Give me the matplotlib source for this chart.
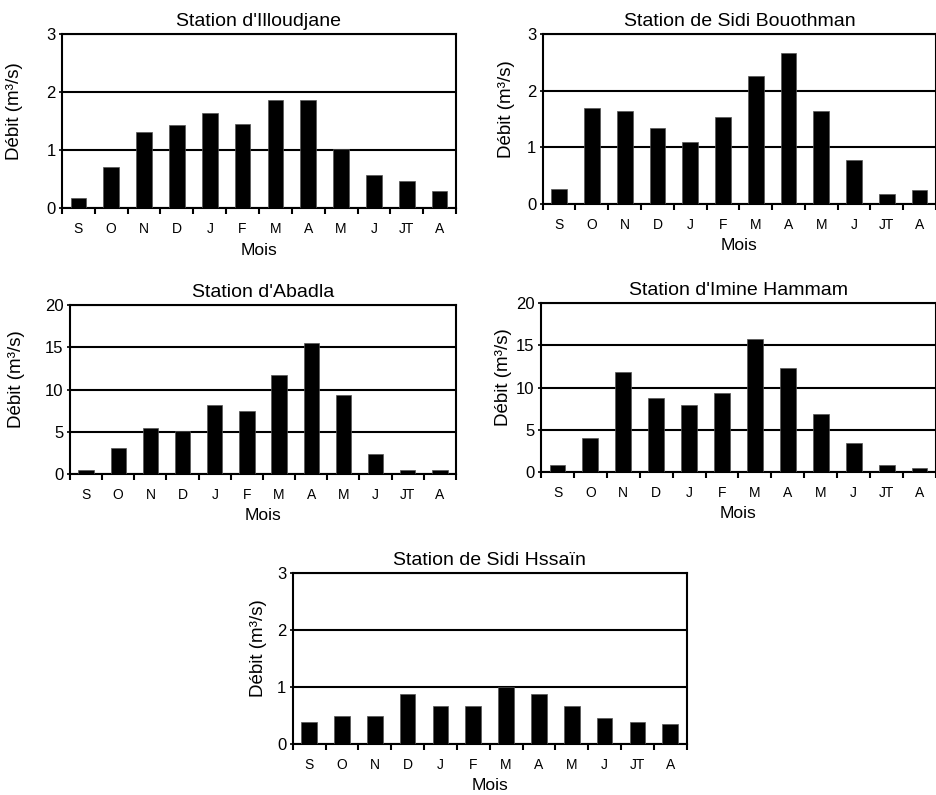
import matplotlib
matplotlib.use("Agg")
import matplotlib.pyplot as plt
from matplotlib.ticker import FixedLocator, NullFormatter

plt.rcParams['font.family'] = ['Liberation Sans', 'DejaVu Sans']

months = ["S", "O", "N", "D", "J", "F", "M", "A", "M", "J", "JT", "A"]

illoudjane = [0.18, 0.71, 1.31, 1.43, 1.64, 1.46, 1.86, 1.86, 1.02, 0.58, 0.47, 0.29]
sidi_bouothman = [0.27, 1.69, 1.64, 1.35, 1.09, 1.54, 2.26, 2.67, 1.64, 0.77, 0.18, 0.24]
abadla = [0.44, 3.1, 5.45, 5.05, 8.2, 7.5, 11.7, 15.5, 9.3, 2.4, 0.44, 0.44]
imine_hammam = [0.83, 4.07, 11.8, 8.77, 8.0, 9.4, 15.8, 12.3, 6.9, 3.4, 0.83, 0.51]
sidi_hssain = [0.39, 0.49, 0.49, 0.88, 0.67, 0.67, 1.0, 0.88, 0.67, 0.45, 0.39, 0.36]

titles = ["Station d'Illoudjane", "Station de Sidi Bouothman", "Station d'Abadla",
          "Station d'Imine Hammam", "Station de Sidi Hssaïn"]
series = [illoudjane, sidi_bouothman, abadla, imine_hammam, sidi_hssain]
yticks = [[0, 1, 2, 3], [0, 1, 2, 3], [0, 5, 10, 15, 20], [0, 5, 10, 15, 20], [0, 1, 2, 3]]

W, H = 937, 795
# pixel boxes: left, right, top, bottom
boxes = [(62, 456, 34.3, 208.3),
         (542.7, 936, 34.3, 204),
         (70, 456, 305, 474),
         (541, 936, 303.3, 472),
         (292.7, 686.7, 573.3, 744)]
# y-label centre x (pixels)
ylab_x = [15, 506.7, 16.7, 503.3, 258.3]

fig = plt.figure(figsize=(W / 100, H / 100), dpi=100)

for (l, r, t, b), title, vals, yt, yx in zip(boxes, titles, series, yticks, ylab_x):
    ax = fig.add_axes([l / W, (H - b) / H, (r - l) / W, (b - t) / H])
    aw, ah = r - l, b - t
    x = list(range(len(months)))
    ax.bar(x, vals, width=0.48, color='black', edgecolor='#555555', linewidth=0.5, zorder=3)
    ax.set_xlim(-0.5, len(months) - 0.5)
    ax.set_ylim(yt[0], yt[-1])
    ax.set_yticks(yt)
    ax.yaxis.grid(True, color='black', linewidth=1.5, zorder=1)
    ax.set_axisbelow(True)
    ax.xaxis.set_major_locator(FixedLocator([i - 0.5 for i in range(len(months) + 1)]))
    ax.xaxis.set_major_formatter(NullFormatter())
    ax.xaxis.set_minor_locator(FixedLocator(x))
    ax.set_xticklabels(months, minor=True, fontsize=10)
    ax.tick_params(axis='x', which='major', direction='out', length=4.5, width=1.5)
    ax.tick_params(axis='x', which='minor', length=0, pad=10)
    ax.tick_params(axis='y', direction='out', length=2.5, width=1.2, labelsize=12, pad=2)
    for s in ax.spines.values():
        s.set_linewidth(1.5)
    ax.set_title(title, fontsize=14, pad=6)
    ax.set_xlabel("Mois", fontsize=12.5)
    ax.xaxis.label.set_va('center')
    ax.xaxis.set_label_coords(0.5, -42 / ah)
    ax.set_ylabel("Débit (m³/s)", fontsize=13.5)
    ax.yaxis.label.set_va('center')
    ax.yaxis.set_label_coords((yx - l) / aw, 0.56)

fig.savefig("out.png", dpi=100)
